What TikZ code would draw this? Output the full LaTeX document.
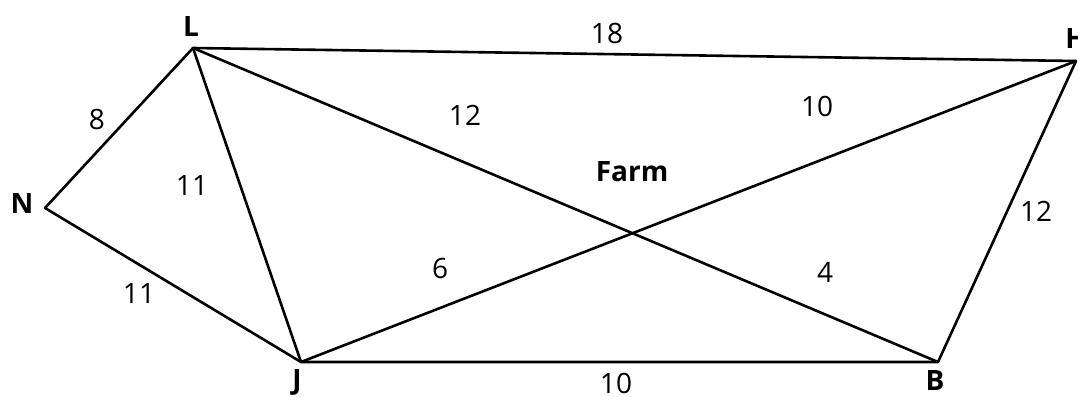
\documentclass[tikz,border=0pt]{standalone}
\usepackage{fontspec}
\setmainfont{Open Sans}
\usepackage{tikz}

\begin{document}
\begin{tikzpicture}[
    x=1pt, y=-1pt,
    font=\fontsize{28}{30}\selectfont,
    road/.style={draw, line width=2.6pt, line join=round},
    town/.style={font=\fontsize{28}{30}\selectfont\bfseries},
    dist/.style={inner sep=0pt}
]
\useasboundingbox (0,0) rectangle (1078,396);
\coordinate (L) at (193,48);
\coordinate (H) at (1076,61);
\coordinate (N) at (45,208);
\coordinate (J) at (301,362);
\coordinate (B) at (938,362);

\node[town] (lL) at (191,27) {L};
\node[town] (lH) at (1076,39) {H};
\node[town] (lN) at (22,204) {N};
\node[town] (lJ) at (297,382) {J};
\node[town] (lB) at (935,381) {B};
\node[town] (farm) at (632,172) {Farm};

\draw[road] (N) -- (L) -- (H) -- (B) -- (J) -- cycle;
\draw[road] (L) -- (J);
\draw[road] (L) -- (B);
\draw[road] (J) -- (H);

\node[dist] (dLH) at (607,33) {18};
\node[dist] (dNL) at (97,119) {8};
\node[dist] (dLJ) at (192,186) {11};
\node[dist] (dNJ) at (139,294) {11};
\node[dist] (dLB) at (465,115) {12};
\node[dist] (dJH) at (817,106) {10};
\node[dist] (dJX) at (440,268) {6};
\node[dist] (dXB) at (825,272) {4};
\node[dist] (dHB) at (1036,211) {12};
\node[dist] (dJB) at (616,383) {10};
\end{tikzpicture}
\end{document}
